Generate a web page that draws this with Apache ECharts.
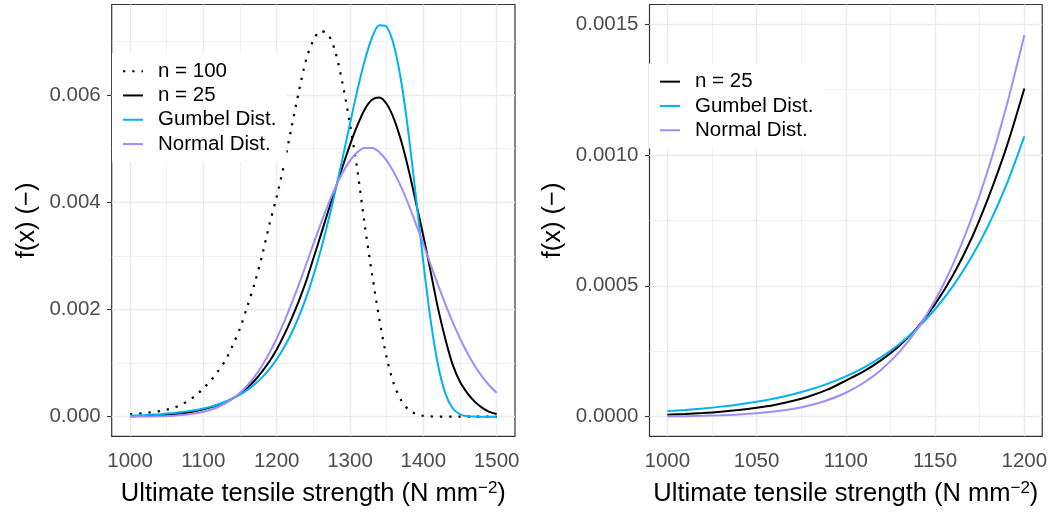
<!DOCTYPE html>
<html><head><meta charset="utf-8">
<script src="https://cdn.jsdelivr.net/npm/echarts@6/dist/echarts.min.js"></script>
<style>html,body{margin:0;padding:0;background:#fff}#c{width:1051px;height:515px}</style>
</head><body><div id="c"></div>
<script>
// x positions (N mm^-2)
const strength = [1000,1010,1020,1030,1040,1050,1060,1070,1080,1090,1100,1110,1120,1130,1140,1150,1160,1170,1180,1190,1200,1210,1220,1230,1240,1250,1260,1270,1280,1290,1300,1310,1320,1330,1340,1350,1360,1370,1380,1390,1400,1410,1420,1430,1440,1450,1460,1470,1480,1490,1500];
// densities, in units of 1e-3
const n100 = [0.045,0.055,0.067,0.082,0.104,0.13,0.17,0.225,0.30,0.40,0.53,0.67,0.85,1.05,1.33,1.65,2.06,2.49,3.00,3.58,4.10,4.70,5.38,6.05,6.65,7.02,7.19,7.13,6.80,6.20,5.45,4.60,3.58,2.66,1.82,1.10,0.60,0.30,0.13,0.05,0.015,0.005,0.002,0.001,0,0,0,0,0,0,0];
const n25 = [0.0076,0.0103,0.0138,0.0187,0.0252,0.034,0.045,0.060,0.079,0.104,0.138,0.173,0.217,0.271,0.34,0.43,0.54,0.675,0.84,1.03,1.254,1.52,1.82,2.15,2.52,2.95,3.38,3.82,4.25,4.67,5.07,5.43,5.73,5.91,5.95,5.83,5.55,5.13,4.60,3.99,3.37,2.70,2.02,1.45,0.97,0.65,0.44,0.28,0.17,0.09,0.05];
const gumbel = [0.0212,0.0258,0.0315,0.0384,0.0469,0.0571,0.0697,0.0850,0.1036,0.1262,0.1537,0.1872,0.2282,0.2776,0.3377,0.4105,0.4986,0.6051,0.7330,0.8870,1.0713,1.2905,1.5508,1.857,2.215,2.628,3.100,3.629,4.210,4.831,5.466,6.085,6.638,7.066,7.298,7.267,6.918,6.236,5.259,4.089,2.879,1.797,0.967,0.435,0.157,0.043,0.0086,0.0012,0.0001,0,0];
const normal = [0.0012,0.0020,0.0032,0.0051,0.0081,0.0127,0.0194,0.0293,0.0435,0.0635,0.0915,0.1295,0.1805,0.2477,0.3346,0.4448,0.582,0.7505,0.9513,1.187,1.458,1.763,2.098,2.457,2.833,3.216,3.592,3.950,4.275,4.554,4.776,4.930,5.008,5.008,4.930,4.776,4.554,4.275,3.950,3.592,3.216,2.833,2.457,2.098,1.763,1.458,1.187,0.9513,0.7505,0.582,0.4448];

const leftXTicks = [1000,1100,1200,1300,1400,1500];
const leftXMinor = [1050,1150,1250,1350,1450];
const leftYTicks = [0,0.002,0.004,0.006];
const leftYMinor = [0.001,0.003,0.005,0.007];
const rightXTicks = [1000,1050,1100,1150,1200];
const rightXMinor = [1025,1075,1125,1175];
const rightYTicks = [0,0.0005,0.001,0.0015];
const rightYMinor = [0.00025,0.00075,0.00125];
const names = ['n = 100','n = 25','Gumbel Dist.','Normal Dist.'];
const xTitle = '{t|Ultimate tensile strength (N mm}{s|\u22122}{t|)}';
const yTitle = 'f(x) (\u2212)';

const FONT = "'Liberation Sans', Arial, Helvetica, sans-serif";
const colors = {n100:'#000000', n25:'#000000', gumbel:'#00B2EE', normal:'#A08CFF'};

function pairs(arr, xmax){
  const out=[];
  strength.forEach((x,i)=>{ if(x<=xmax) out.push([x, arr[i]*1e-3]); });
  return out;
}
function gridMarks(xMaj,xMin,yMaj,yMin){
  const d=[];
  xMin.forEach(v=>d.push({xAxis:v, lineStyle:{width:0.7,color:'#EBEBEB',type:'solid'}}));
  yMin.forEach(v=>d.push({yAxis:v, lineStyle:{width:0.7,color:'#EBEBEB',type:'solid'}}));
  xMaj.forEach(v=>d.push({xAxis:v, lineStyle:{width:1.4,color:'#EBEBEB',type:'solid'}}));
  yMaj.forEach(v=>d.push({yAxis:v, lineStyle:{width:1.4,color:'#EBEBEB',type:'solid'}}));
  return d;
}
function gridSeries(idx, xMaj,xMin,yMaj,yMin){
  return {type:'line', name:'_grid'+idx, xAxisIndex:idx, yAxisIndex:idx, data:[[xMaj[0],0]],
    showSymbol:false, symbol:'none', lineStyle:{opacity:0}, silent:true, z:1,
    markLine:{silent:true, precision:12, symbol:['none','none'], label:{show:false}, animation:false, z:1,
      emphasis:{disabled:true}, data:gridMarks(xMaj,xMin,yMaj,yMin)}};
}
function xAxisCfg(idx,min,max,ticks){
  return {type:'value', gridIndex:idx, min:min, max:max,
    axisLine:{show:false}, splitLine:{show:false},
    axisTick:{show:true, length:4.5, customValues:ticks, lineStyle:{color:'#333333', width:1.1}},
    axisLabel:{customValues:ticks, margin:15, color:'#4D4D4D', fontSize:20.5, fontFamily:FONT,
      formatter:v=>String(Math.round(v))},
    name:xTitle, nameLocation:'middle', nameGap:44,
    nameTextStyle:{rich:{
      t:{fontSize:25.5, fontFamily:FONT, color:'#000', lineHeight:27},
      s:{fontSize:17, fontFamily:FONT, color:'#000', lineHeight:17, verticalAlign:'top'}}}};
}
function yAxisCfg(idx,min,max,ticks,dec,gap){
  return {type:'value', gridIndex:idx, min:min, max:max,
    axisLine:{show:false}, splitLine:{show:false},
    axisTick:{show:true, length:4.5, customValues:ticks, lineStyle:{color:'#333333', width:1.1}},
    axisLabel:{customValues:ticks, margin:11, color:'#4D4D4D', fontSize:20.5, fontFamily:FONT,
      formatter:v=>Number(v).toFixed(dec)},
    name:yTitle, nameLocation:'middle', nameRotate:90, nameGap:gap,
    nameTextStyle:{fontSize:25.5, fontFamily:FONT, color:'#000'}};
}
function lineSeries(idx, name, arr, color, xmax, dotted){
  return {type:'line', name:name, xAxisIndex:idx, yAxisIndex:idx, data:pairs(arr,xmax),
    showSymbol:false, symbol:'none', smooth:0.3, z:3, silent:true,
    lineStyle: dotted ? {color:color, width:2.2, type:[2.3,6.95], cap:'butt'} : {color:color, width:2},
    itemStyle:{color:color}};
}
function legendCfg(left, top, data){
  return {orient:'vertical', left:left, top:top, padding:[6,10,6,10], itemGap:0,
    itemWidth:20, itemHeight:14, backgroundColor:'#ffffff', selectedMode:false, data:data,
    itemStyle:{opacity:0},
    textStyle:{fontSize:20.5, fontFamily:FONT, color:'#000', lineHeight:24.3, padding:[0,0,0,10]}};
}

const chart = echarts.init(document.getElementById('c'), null, {renderer:'canvas'});
chart.setOption({
  animation:false,
  backgroundColor:'#ffffff',
  grid:[
    {left:111.7, top:4.5, width:403.3, height:431.8, show:true, backgroundColor:'#fff', borderColor:'#333333', borderWidth:1.2, containLabel:false},
    {left:649.5, top:4.5, width:392.7, height:431.8, show:true, backgroundColor:'#fff', borderColor:'#333333', borderWidth:1.2, containLabel:false}
  ],
  xAxis:[ xAxisCfg(0,975,1525,leftXTicks), xAxisCfg(1,990,1210,rightXTicks) ],
  yAxis:[ yAxisCfg(0,-0.000366,0.007686,leftYTicks,3,72), yAxisCfg(1,-0.000075,0.001575,rightYTicks,4,84) ],
  legend:[ legendCfg(112,53,names), legendCfg(649,63.5,names.slice(1)) ],
  series:[
    gridSeries(0,leftXTicks,leftXMinor,leftYTicks,leftYMinor),
    gridSeries(1,rightXTicks,rightXMinor,rightYTicks,rightYMinor),
    lineSeries(0,names[0],n100,colors.n100,1500,true),
    lineSeries(0,names[1],n25,colors.n25,1500,false),
    lineSeries(0,names[2],gumbel,colors.gumbel,1500,false),
    lineSeries(0,names[3],normal,colors.normal,1500,false),
    lineSeries(1,names[1],n25,colors.n25,1200,false),
    lineSeries(1,names[2],gumbel,colors.gumbel,1200,false),
    lineSeries(1,names[3],normal,colors.normal,1200,false)
  ]
});
</script></body></html>
